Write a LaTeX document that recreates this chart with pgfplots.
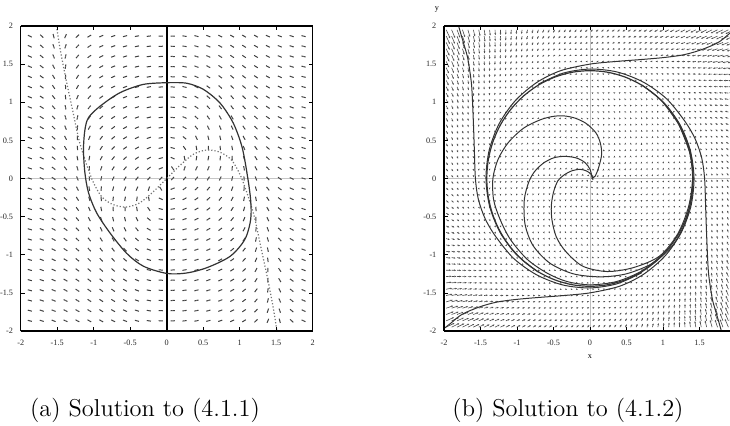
\documentclass[border=0pt]{standalone}
\usepackage{pgfplots}
\pgfplotsset{compat=1.18}
\usepackage{pgfplotstable}
\usepackage{fontspec}
\newfontfamily\tickfont{Liberation Serif}
\usetikzlibrary{arrows.meta}

% ---------- curves of system (4.1.1) ----------
% closed orbit
\pgfplotstableread{
x y
0 1.256
0.27 1.25
0.50 1.17
0.73 0.99
0.91 0.73
1.03 0.42
1.10 0.07
1.15 -0.28
1.15 -0.54
1.07 -0.80
0.87 -1.02
0.55 -1.17
0.27 -1.24
0 -1.245
-0.32 -1.15
-0.55 -0.98
-0.78 -0.71
-0.96 -0.45
-1.07 -0.19
-1.12 0.07
-1.14 0.38
-1.12 0.64
-1.07 0.80
-0.91 0.95
-0.64 1.125
-0.32 1.234
0 1.256
}\orbitA
% nullcline (dotted)
\pgfplotstableread{
x y
-1.51 2.00
-1.46 1.70
-1.39 1.35
-1.29 0.90
-1.20 0.50
-1.11 0.22
-1.01 -0.04
-0.89 -0.24
-0.74 -0.34
-0.56 -0.375
-0.37 -0.32
-0.18 -0.17
0 0
0.18 0.17
0.37 0.32
0.56 0.375
0.74 0.34
0.89 0.24
1.01 0.04
1.11 -0.22
1.20 -0.50
1.29 -0.90
1.39 -1.35
1.46 -1.70
1.51 -2.00
}\nullA

% ---------- curves of system (4.1.2) ----------
\pgfplotstableread{
x y
1.414 0
1.393 0.246
1.329 0.484
1.225 0.707
1.083 0.909
0.909 1.083
0.707 1.225
0.484 1.329
0.246 1.393
0 1.414
-0.246 1.393
-0.484 1.329
-0.707 1.225
-0.909 1.083
-1.083 0.909
-1.225 0.707
-1.329 0.484
-1.393 0.246
-1.414 0
-1.393 -0.246
-1.329 -0.484
-1.225 -0.707
-1.083 -0.909
-0.909 -1.083
-0.707 -1.225
-0.484 -1.329
-0.246 -1.393
0 -1.414
0.246 -1.393
0.484 -1.329
0.707 -1.225
0.909 -1.083
1.083 -0.909
1.225 -0.707
1.329 -0.484
1.393 -0.246
1.414 0
}\cycleB
\pgfplotstableread{
x y
1.99 1.96
1.91 1.90
1.75 1.78
1.50 1.68
1.27 1.62
1.00 1.585
0.70 1.56
0.36 1.535
0.00 1.50
-0.405 1.413
-0.728 1.260
-1.022 1.022
-1.244 0.719
-1.381 0.370
-1.425 0
-1.374 -0.368
-1.230 -0.710
-1.003 -1.003
-0.709 -1.227
}\outA
\pgfplotstableread{
x y
-1.99 -1.96
-1.91 -1.90
-1.75 -1.78
-1.50 -1.68
-1.27 -1.62
-1.00 -1.585
-0.70 -1.56
-0.36 -1.535
0.00 -1.50
0.405 -1.413
0.728 -1.260
1.022 -1.022
1.244 -0.719
1.381 -0.370
1.425 0
1.374 0.368
1.230 0.710
1.003 1.003
0.709 1.227
}\outC
\pgfplotstableread{
x y
-1.80 2.00
-1.74 1.80
-1.68 1.60
-1.645 1.40
-1.62 1.20
-1.60 0.80
-1.585 0.40
-1.57 0.0
-1.53 -0.27
-1.44 -0.52
-1.30 -0.75
-1.047 -1.047
-0.730 -1.264
-0.374 -1.396
0 -1.435
0.370 -1.381
0.7125 -1.234
}\outB
\pgfplotstableread{
x y
1.80 -2.00
1.74 -1.80
1.68 -1.60
1.645 -1.40
1.62 -1.20
1.60 -0.80
1.585 -0.40
1.57 0.0
1.53 0.27
1.44 0.52
1.30 0.75
1.047 1.047
0.730 1.264
0.374 1.396
0 1.435
-0.370 1.381
-0.7125 1.234
}\outD
\pgfplotstableread{
x y
0.02 0.00
0.07 0.03
0.12 0.15
0.16 0.32
0.14 0.47
0.08 0.60
-0.05 0.72
-0.20 0.79
-0.35 0.82
-0.50 0.815
-0.68 0.77
-0.91 0.66
-1.12 0.47
-1.26 0.25
-1.33 0.0
-1.32 -0.28
-1.23 -0.54
-1.09 -0.80
-0.86 -1.06
-0.59 -1.24
-0.32 -1.35
0.00 -1.395
0.362 -1.352
0.7025 -1.217
0.997 -0.997
}\armA
\pgfplotstableread{
x y
0.03 0.01
0.00 0.12
-0.07 0.21
-0.19 0.27
-0.35 0.29
-0.50 0.27
-0.64 0.20
-0.76 0.09
-0.84 -0.05
-0.90 -0.28
-0.89 -0.60
-0.78 -0.88
-0.55 -1.11
-0.23 -1.25
0.14 -1.29
0.50 -1.25
0.86 -1.11
1.13 -0.88
1.30 -0.59
1.38 -0.30
1.405 0.0
1.38 0.30
1.22 0.705
}\armB
\pgfplotstableread{
x y
0.04 -0.02
0.02 0.05
-0.05 0.10
-0.14 0.12
-0.25 0.10
-0.35 0.05
-0.44 -0.03
-0.50 -0.18
-0.53 -0.36
-0.52 -0.55
-0.46 -0.77
-0.33 -0.96
-0.10 -1.15
0.23 -1.22
0.59 -1.17
0.95 -1.02
1.20 -0.73
1.35 -0.37
1.405 0.0
1.36 0.36
1.22 0.70
1.00 1.00
}\armC

\newcommand\ticksize{\tickfont\fontsize{4.1}{5}\selectfont}

\pgfplotsset{
  panel/.style={
    anchor=south west, width=146pt, height=152.5pt, scale only axis,
    view={0}{90},
    xmin=-2, xmax=2, ymin=-2, ymax=2, zmin=-3, zmax=3,
    xtick={-2,-1.5,...,2}, ytick={-2,-1.5,...,2}, ztick=\empty,
    xtick pos=both, ytick pos=both,
    tick align=inside, major tick length=2pt,
    tick style={black, line width=0.35pt},
    axis line style={black, line width=0.6pt},
    ticklabel style={font=\ticksize, text=black!85},
    /pgf/number format/assume math mode=true,
    xticklabel style={yshift=-1.2pt},
    yticklabel style={xshift=-0.3pt},
  },
  curve/.style={black!80, line width=0.5pt, smooth},
  table/flat/.style={x index=0, y index=1, z index=0, z expr=0},
}

\begin{document}
\begin{tikzpicture}[x=1pt,y=1pt]
\useasboundingbox (0,0) rectangle (365,213);

% (a) slope field, nullcline and closed orbit
\begin{axis}[panel, at={(10.35pt,47.5pt)},
  declare function={F(\t)=\t*(0.9485-\t*\t*(0.8657+0.0252*\t*\t*\t*\t));}]
  \addplot3[gray!45, line width=0.8pt] coordinates {(-2,0,0) (2,0,0)};
  \addplot3[black!75, line width=0.5pt, domain=-1.875:1.875, y domain=-1.8667:1.8667,
    samples=24, samples y=29,
    quiver={u={0.029*(y-F(x))/sqrt((y-F(x))^2+x*x)}, v={-0.029*x/sqrt((y-F(x))^2+x*x)}}] {0};
  \addplot3[black!75, line width=0.5pt, domain=-1.875:1.875, y domain=-1.8667:1.8667,
    samples=24, samples y=29,
    quiver={u={-0.029*(y-F(x))/sqrt((y-F(x))^2+x*x)}, v={0.029*x/sqrt((y-F(x))^2+x*x)}}] {0};
  \addplot3[black, line width=0.8pt] coordinates {(0,-2,0) (0,2,0)};
  \addplot3[black!55, densely dotted, line width=0.6pt, smooth] table[flat] {\nullA};
  \addplot3[curve, line width=0.6pt] table[flat] {\orbitA};
\end{axis}

% (b) vector field, limit cycle and trajectories
\begin{axis}[panel, at={(222pt,47.5pt)},
  xticklabels={-2,-1.5,-1,-0.5,0,0.5,1,1.5,{}}]
  \addplot3[black!70, line width=0.3pt, -{Stealth[length=1pt,width=0.8pt]},
    domain=-1.97:1.97, y domain=-1.95:1.95, samples=54, samples y=48,
    quiver={u={x-y-0.5*x*(x*x+y*y)}, v={x+y-0.5*y*(x*x+y*y)}, scale arrows=0.015}] {0};
  \addplot3[gray!50, line width=0.4pt] coordinates {(-2,0,0) (2,0,0)};
  \addplot3[gray!50, line width=0.4pt] coordinates {(0,-2,0) (0,2,0)};
  \addplot3[curve, line width=0.6pt] table[flat] {\cycleB};
  \addplot3[curve] table[flat] {\outA};
  \addplot3[curve] table[flat] {\outB};
  \addplot3[curve] table[flat] {\outC};
  \addplot3[curve] table[flat] {\outD};
  \addplot3[curve] table[flat] {\armA};
  \addplot3[curve] table[flat] {\armB};
  \addplot3[curve] table[flat] {\armC};
\end{axis}

\node[font=\ticksize] at (218.5,208) {y};
\node[font=\ticksize] at (295,34.5) {x};
\node[font=\fontsize{12.2}{14.6}\selectfont, anchor=base] at (72.5,4.6) {(a) Solution to (4.1.1)};
\node[font=\fontsize{12.2}{14.6}\selectfont, anchor=base] at (284,4.6) {(b) Solution to (4.1.2)};
\end{tikzpicture}
\end{document}
